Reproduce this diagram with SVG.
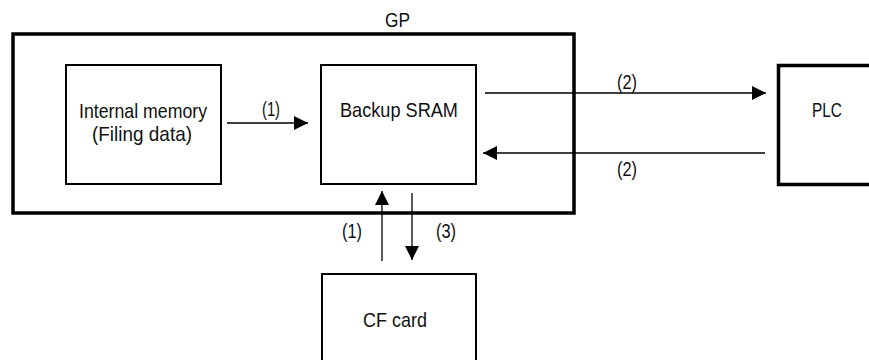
<svg xmlns="http://www.w3.org/2000/svg" width="869" height="360" viewBox="0 0 869 360">
<defs>
<marker id="ah" viewBox="0 0 14 14" refX="14" refY="7" markerWidth="14" markerHeight="14" markerUnits="userSpaceOnUse" orient="auto">
<path d="M0,0 L14,7 L0,14 Z" fill="#000"/>
</marker>
<style>
text{font-family:"Liberation Sans",Arial,sans-serif;font-size:21px;fill:#111;}
.box{fill:none;stroke:#000;stroke-width:2;}
.thick{fill:none;stroke:#000;stroke-width:3.5;}
.conn{stroke:#000;stroke-width:1.3;fill:none;marker-end:url(#ah);}
</style>
</defs>
<rect width="869" height="360" fill="#fff"/>
<g id="gp">
<rect class="thick" x="13" y="34" width="561" height="179"/>
<text x="385" y="27" textLength="25" lengthAdjust="spacingAndGlyphs">GP</text>
</g>
<g id="internal-memory">
<rect class="box" x="66" y="65" width="155" height="119"/>
<text x="79" y="118" textLength="128" lengthAdjust="spacingAndGlyphs">Internal memory</text>
<text x="92" y="141" textLength="100" lengthAdjust="spacingAndGlyphs">(Filing data)</text>
</g>
<g id="backup-sram">
<rect class="box" x="321" y="65" width="155" height="119"/>
<text x="340" y="117" textLength="118" lengthAdjust="spacingAndGlyphs">Backup SRAM</text>
</g>
<g id="plc">
<rect class="thick" x="778.5" y="65.5" width="100" height="119"/>
<text x="812" y="117" textLength="30" lengthAdjust="spacingAndGlyphs">PLC</text>
</g>
<g id="cf-card">
<rect class="box" x="322" y="274" width="154" height="100"/>
<text x="363" y="327" textLength="64" lengthAdjust="spacingAndGlyphs">CF card</text>
</g>
<g id="connectors">
<line class="conn" x1="227" y1="123" x2="308" y2="123"/>
<text x="262" y="116" textLength="18" lengthAdjust="spacingAndGlyphs">(1)</text>
<line class="conn" x1="485" y1="93" x2="766" y2="93"/>
<text x="617" y="89" textLength="20" lengthAdjust="spacingAndGlyphs">(2)</text>
<line class="conn" x1="765" y1="153" x2="483" y2="153"/>
<text x="617" y="176" textLength="20" lengthAdjust="spacingAndGlyphs">(2)</text>
<line class="conn" x1="382" y1="261" x2="382" y2="191"/>
<text x="342" y="238" textLength="20" lengthAdjust="spacingAndGlyphs">(1)</text>
<line class="conn" x1="412" y1="193" x2="412" y2="260"/>
<text x="436" y="238" textLength="20" lengthAdjust="spacingAndGlyphs">(3)</text>
</g>
</svg>
